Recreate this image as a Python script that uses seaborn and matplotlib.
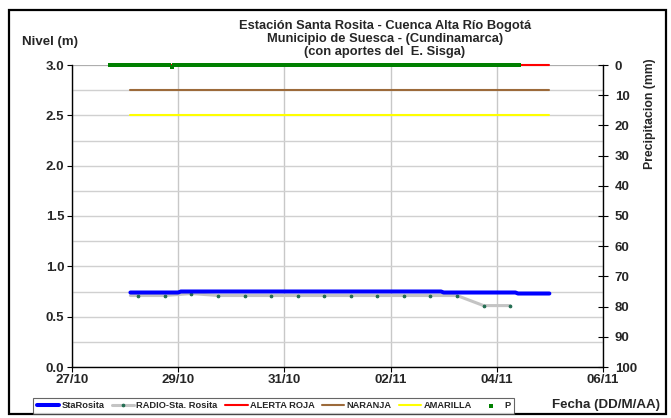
import matplotlib
matplotlib.use("Agg")
import matplotlib.pyplot as plt
from matplotlib.patches import Rectangle
import numpy as np
import pandas as pd
import seaborn as sns

# --- data ---
t0 = pd.Timestamp("2010-10-27")

# StaRosita level (m), change points (days after 27/10)
sta_days = [1.10, 2.00, 2.05, 6.95, 7.00, 8.35, 8.40, 8.99]
sta_level = [0.74, 0.74, 0.75, 0.75, 0.74, 0.74, 0.73, 0.73]

# RADIO-Sta. Rosita level (m); first value has no marker
radio_days = [1.10, 1.25, 1.75, 2.25, 2.75, 3.25, 3.75, 4.25, 4.75,
              5.25, 5.75, 6.25, 6.75, 7.25, 7.75, 8.25]
radio_level = [0.71, 0.71, 0.71, 0.73, 0.71, 0.71, 0.71, 0.71, 0.71,
               0.71, 0.71, 0.71, 0.71, 0.71, 0.61, 0.61]

# alert thresholds (m)
alert_days = [1.10, 8.99]
alerta_roja = [3.0, 3.0]
naranja = [2.75, 2.75]
amarilla = [2.5, 2.5]

# hourly precipitation (mm), all zero except one small reading
p_times = pd.date_range("2010-10-27 17:00", "2010-11-04 10:00", freq="h")
p_mm = [0.0] * len(p_times)
p_mm[28] = 0.6

tick_dates = ["2010-10-27", "2010-10-29", "2010-10-31",
              "2010-11-02", "2010-11-04", "2010-11-06"]
tick_labels = ["27/10", "29/10", "31/10", "02/11", "04/11", "06/11"]


def to_dt(days):
    return [t0 + pd.Timedelta(days=d) for d in days]


sta = pd.DataFrame({"t": to_dt(sta_days), "v": sta_level})
radio = pd.DataFrame({"t": to_dt(radio_days), "v": radio_level})
alerts = pd.DataFrame({"t": to_dt(alert_days), "roja": alerta_roja,
                       "naranja": naranja, "amarilla": amarilla})
precip = pd.DataFrame({"t": p_times, "p": p_mm})

sns.set_theme(style="white")
plt.rcParams["font.family"] = ["Liberation Sans", "DejaVu Sans"]
plt.rcParams["font.weight"] = "bold"

fig = plt.figure(figsize=(6.71, 4.18), dpi=100)
ax = fig.add_axes([72 / 671, 1 - 367 / 418, 531 / 671, 302 / 418])
ax2 = ax.twinx()

sns.lineplot(data=alerts, x="t", y="roja", ax=ax, color="#ff0000", lw=1.5,
             label="ALERTA ROJA", zorder=3, clip_on=False)
sns.lineplot(data=alerts, x="t", y="naranja", ax=ax, color="#9c6a3a", lw=1.5,
             label="NARANJA", zorder=3)
sns.lineplot(data=alerts, x="t", y="amarilla", ax=ax, color="#ffff00", lw=1.5,
             label="AMARILLA", zorder=3)
sns.lineplot(data=radio, x="t", y="v", ax=ax, color="#c4c4c4", lw=2.2,
             marker="o", markersize=1.9, markerfacecolor="#1f6b4f",
             markeredgecolor="#1f6b4f", markevery=list(range(1, len(radio))),
             label="RADIO-Sta. Rosita", zorder=3)
sns.lineplot(data=sta, x="t", y="v", ax=ax, color="#0000ff", lw=2.9,
             label="StaRosita", zorder=4)
sns.scatterplot(data=precip, x="t", y="p", ax=ax2, color="#008000",
                marker="s", s=5, linewidth=0, label="P", clip_on=False,
                zorder=5)

h1, l1 = ax.get_legend_handles_labels()
h2, l2 = ax2.get_legend_handles_labels()
for a in (ax, ax2):
    if a.get_legend() is not None:
        a.get_legend().remove()

# axes ranges
ax.set_ylim(0, 3.0)
ax.set_yticks(np.arange(0, 3.01, 0.5))
ax.set_yticks(np.arange(0.25, 3.0, 0.5), minor=True)
ax.set_yticklabels([f"{v:.1f}" for v in np.arange(0, 3.01, 0.5)])
ax.set_xlim(pd.Timestamp(tick_dates[0]), pd.Timestamp(tick_dates[-1]))
ax.set_xticks([pd.Timestamp(d) for d in tick_dates])
ax.set_xticklabels(tick_labels)
ax2.set_ylim(100, 0)
ax2.set_yticks(range(0, 101, 10))

ax.set_xlabel("")
ax.set_ylabel("")
ax2.set_ylabel("")

ax.grid(True, which="both", axis="y", color="#d0d0d0", lw=1.0)
ax.grid(True, which="major", axis="x", color="#c8c8c8", lw=1.0)
ax.set_axisbelow(True)

ax.spines["top"].set_visible(False)
ax2.spines["top"].set_visible(False)
ax.spines["right"].set_visible(False)
ax2.spines["left"].set_visible(False)
ax2.spines["bottom"].set_visible(False)
for s in ("left", "bottom"):
    ax.spines[s].set_color("black")
    ax.spines[s].set_linewidth(1.0)
ax2.spines["right"].set_color("black")
ax2.spines["right"].set_linewidth(1.0)
ax.axhline(3.0, color="#a8a8a8", lw=1.2, zorder=1)

ax.tick_params(axis="y", which="major", left=True, direction="out", length=3.5,
               width=0.8, color="black", labelsize=9.5, pad=2)
ax.tick_params(axis="y", which="minor", left=False)
ax.tick_params(axis="x", bottom=True, direction="out", length=3.5, width=0.8,
               color="black", labelsize=9.5, pad=1.5)
ax2.tick_params(axis="y", right=True, direction="inout", length=7, width=0.8,
                color="black", labelsize=9.5, pad=5)
for lab in ax.get_xticklabels() + ax.get_yticklabels() + ax2.get_yticklabels():
    lab.set_fontweight("bold")

# texts
fig.text(385 / 671, 1 - 39 / 418,
         "Estación Santa Rosita - Cuenca Alta Río Bogotá\n"
         "Municipio de Suesca - (Cundinamarca)\n"
         "(con aportes del  E. Sisga)",
         ha="center", va="center", fontsize=9.3, fontweight="bold",
         linespacing=1.12)
fig.text(22 / 671, 1 - 42 / 418, "Nivel (m)", ha="left", va="center",
         fontsize=9.5, fontweight="bold")
fig.text(650 / 671, 1 - 114 / 418, "Precipitacion (mm)", rotation=90,
         ha="center", va="center", fontsize=8.8, fontweight="bold")
fig.text(552 / 671, 1 - 405 / 418, "Fecha (DD/M/AA)", ha="left", va="center",
         fontsize=9.6, fontweight="bold")

order = ["StaRosita", "RADIO-Sta. Rosita", "ALERTA ROJA", "NARANJA", "AMARILLA", "P"]
hl = dict(zip(l1 + l2, h1 + h2))
leg = fig.legend([hl[k] for k in order], order, loc="lower left",
                 bbox_to_anchor=(33 / 671, 1 - 414 / 418), ncol=6,
                 frameon=True, fancybox=False, fontsize=6.7, handlelength=2.4,
                 handletextpad=0.25, columnspacing=0.8, borderpad=0.4,
                 markerscale=1.0, borderaxespad=0.0)
leg.get_frame().set_edgecolor("#404040")
leg.get_frame().set_linewidth(0.8)
leg.legend_handles[5].set_sizes([9])
for txt in leg.get_texts():
    txt.set_fontweight("bold")

fig.patches.append(Rectangle((9 / 671, 4 / 418), 657 / 671, 404 / 418,
                             transform=fig.transFigure, fill=False,
                             edgecolor="black", lw=1.6))

fig.savefig("out.png", dpi=100)
